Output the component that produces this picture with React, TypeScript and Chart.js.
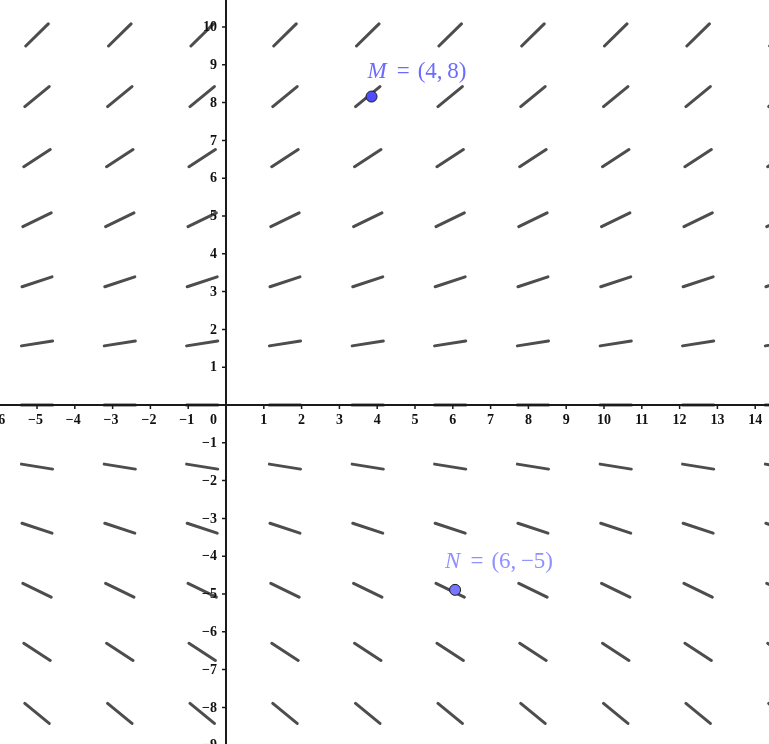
import React, { useEffect, useRef } from "react";
import { Chart, registerables } from "chart.js";

Chart.register(...registerables);

// View window (equal scaling)
const xRange = [-5.979, 14.365];
const yRange = [-8.968, 10.714];

// Slope field grid
const fieldX = [-5.0, -2.81, -0.63, 1.56, 3.75, 5.93, 8.12, 10.31, 12.49, 14.68];
const fieldY = [9.79, 8.16, 6.53, 4.9, 3.26, 1.63, 0, -1.63, -3.26, -4.9, -6.53, -8.16];
const rowSlopes = [0.98, 0.82, 0.65, 0.49, 0.33, 0.16, 0, -0.16, -0.33, -0.49, -0.65, -0.82];
const segmentHalfLength = 0.417;

// Tick labels
const xTicks = [-6, -5, -4, -3, -2, -1, 1, 2, 3, 4, 5, 6, 7, 8, 9, 10, 11, 12, 13, 14];
const yTicks = [10, 9, 8, 7, 6, 5, 4, 3, 2, 1, -1, -2, -3, -4, -5, -6, -7, -8, -9];

// Points
const pointNames = ["M", "N"];
const pointCoords = ["(4,\u20098)", "(6,\u2009\u22125)"];
const pointX = [3.85, 6.06];
const pointY = [8.16, -4.89];
const pointFill = ["#4d4dff", "#7777ff"];
const labelColor = ["#6b6bff", "#9090ff"];
const labelOffset = [
  [-4, -19],
  [-10, -22],
];

const fmt = (v: number) => (v < 0 ? "\u2212" + Math.abs(v) : String(v));

export default function App() {
  const ref = useRef<HTMLCanvasElement | null>(null);

  useEffect(() => {
    document.body.style.margin = "0";
    const canvas = ref.current;
    if (!canvas) return;

    const rowDatasets = fieldY.map((yc, r) => {
      const m = rowSlopes[r];
      const n = Math.sqrt(1 + m * m);
      const dx = segmentHalfLength / n;
      const dy = (segmentHalfLength * m) / n;
      const data: any[] = [];
      fieldX.forEach((xc) => {
        data.push({ x: xc - dx, y: yc - dy });
        data.push({ x: xc + dx, y: yc + dy });
        data.push({ x: xc, y: null });
      });
      return {
        type: "line" as const,
        data,
        borderColor: "#4d4d4d",
        borderWidth: 3,
        borderCapStyle: "round" as const,
        pointRadius: 0,
        spanGaps: false,
        fill: false,
        tension: 0,
        order: 2,
      };
    });

    const pointsDataset = {
      type: "scatter" as const,
      data: pointX.map((x, i) => ({ x, y: pointY[i] })),
      pointRadius: 5.5,
      pointBackgroundColor: pointFill,
      pointBorderColor: "#1a1a1a",
      pointBorderWidth: 1,
      showLine: false,
      order: 0,
    };

    const axesPlugin = {
      id: "geoAxes",
      afterDatasetsDraw(chart: any) {
        const ctx = chart.ctx as CanvasRenderingContext2D;
        const xs = chart.scales.x;
        const ys = chart.scales.y;
        const x0 = xs.getPixelForValue(0);
        const y0 = ys.getPixelForValue(0);
        const W = chart.width;
        const H = chart.height;
        ctx.save();
        ctx.strokeStyle = "#1a1a1a";
        ctx.lineWidth = 2;
        ctx.beginPath();
        ctx.moveTo(0, y0);
        ctx.lineTo(W, y0);
        ctx.moveTo(x0, 0);
        ctx.lineTo(x0, H);
        ctx.stroke();

        ctx.lineWidth = 1.5;
        ctx.beginPath();
        xTicks.forEach((t) => {
          const px = xs.getPixelForValue(t);
          ctx.moveTo(px, y0);
          ctx.lineTo(px, y0 + 4);
        });
        yTicks.forEach((t) => {
          const py = ys.getPixelForValue(t);
          ctx.moveTo(x0, py);
          ctx.lineTo(x0 - 4, py);
        });
        ctx.stroke();

        ctx.fillStyle = "#111";
        ctx.font = "bold 14px 'Liberation Serif'";
        ctx.textAlign = "center";
        ctx.textBaseline = "alphabetic";
        xTicks.forEach((t) => {
          const px = xs.getPixelForValue(t);
          ctx.fillText(fmt(t), px - (t < 0 ? 1.5 : 0), y0 + 18.5);
        });
        ctx.textAlign = "right";
        ctx.fillText("0", x0 - 9, y0 + 18.5);
        ctx.textBaseline = "middle";
        yTicks.forEach((t) => {
          const py = ys.getPixelForValue(t);
          ctx.fillText(fmt(t), x0 - 9, py + 0.5);
        });

        // point labels (LaTeX-like spacing)
        ctx.textAlign = "left";
        ctx.textBaseline = "alphabetic";
        pointX.forEach((x, i) => {
          let px = xs.getPixelForValue(x) + labelOffset[i][0];
          const py = ys.getPixelForValue(pointY[i]) + labelOffset[i][1];
          ctx.fillStyle = labelColor[i];
          ctx.font = "italic 23px 'Liberation Serif'";
          ctx.fillText(pointNames[i], px, py);
          px += ctx.measureText(pointNames[i]).width + 10;
          ctx.font = "23px 'Liberation Serif'";
          ctx.fillText("=", px, py);
          px += ctx.measureText("=").width + 8;
          ctx.fillText(pointCoords[i], px, py);
        });
        ctx.restore();
      },
    };

    const chart = new Chart(canvas, {
      type: "scatter",
      data: { datasets: [pointsDataset as any, ...(rowDatasets as any[])] },
      options: {
        animation: false,
        responsive: false,
        devicePixelRatio: 1,
        layout: { padding: 0, autoPadding: false },
        plugins: {
          legend: { display: false },
          tooltip: { enabled: false },
          title: { display: false },
        },
        scales: {
          x: { type: "linear", min: xRange[0], max: xRange[1], display: false },
          y: { type: "linear", min: yRange[0], max: yRange[1], display: false },
        },
      },
      plugins: [axesPlugin],
    });

    return () => chart.destroy();
  }, []);

  return (
    <div style={{ width: 769, height: 744, background: "#fff" }}>
      <canvas ref={ref} width={769} height={744} style={{ display: "block" }} />
    </div>
  );
}
